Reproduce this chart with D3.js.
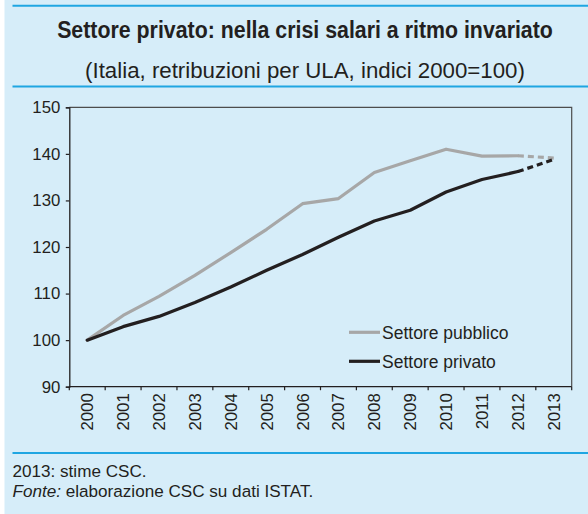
<!DOCTYPE html>
<html>
<head>
<meta charset="utf-8">
<script src="https://cdn.jsdelivr.net/npm/d3@7"></script>
<style>
  html, body { margin: 0; padding: 0; background: #ffffff; }
  svg { display: block; }
</style>
</head>
<body>
<svg id="chart" width="588" height="514"></svg>
<script>
// ---- data ----
const years = ["2000","2001","2002","2003","2004","2005","2006","2007","2008","2009","2010","2011","2012","2013"];
const pubblico = [100, 105.3, 109.4, 113.9, 118.8, 123.8, 129.3, 130.4, 136.0, 138.5, 141.0, 139.5, 139.6, 139.1];
const privato  = [100, 102.9, 105.1, 108.1, 111.4, 115.0, 118.4, 122.1, 125.6, 127.9, 131.8, 134.5, 136.2, 138.8];
const seriesNames = ["Settore pubblico", "Settore privato"];
const yTicks = [90, 100, 110, 120, 130, 140, 150];
const estimateFrom = "2012"; // 2013 is an estimate (dashed)
const titleText = "Settore privato: nella crisi salari a ritmo invariato";
const subtitleText = "(Italia, retribuzioni per ULA, indici 2000=100)";
const note1 = "2013: stime CSC.";
const note2a = "Fonte:";
const note2b = " elaborazione CSC su dati ISTAT.";

// ---- styles ----
const W = 588, H = 514;
const bg = "#d6edf9";
const rule = "#1fa6e2";
const ink = "#231f20";
const greyLine = "#a7a7a7";
const blackLine = "#231f20";
const sans = "'Liberation Sans', Arial, Helvetica, sans-serif";

const svg = d3.select("#chart");

// background
svg.append("rect").attr("x", 0).attr("y", 0).attr("width", W).attr("height", H).attr("fill", "#ffffff");
svg.append("rect").attr("x", 4.5).attr("y", 0).attr("width", W - 4.5).attr("height", H).attr("fill", bg);

// horizontal rules
[5.7, 86.5, 453].forEach(yy => {
  svg.append("line").attr("x1", 12.5).attr("x2", W).attr("y1", yy).attr("y2", yy)
    .attr("stroke", rule).attr("stroke-width", 2);
});

// condensed look: horizontally scaled text fitted to a width
function condensed(tx, ty, anchor, width) {
  const t = svg.append("text").attr("x", 0).attr("y", 0)
    .attr("font-family", sans).attr("fill", ink).attr("text-anchor", anchor);
  t.fit = function () {
    const w = t.node().getComputedTextLength();
    const s = width / w;
    t.attr("transform", `translate(${tx},${ty}) scale(${s},1)`);
    return t;
  };
  return t;
}

// title & subtitle
condensed(305, 37.5, "middle", 496).attr("font-weight", "bold").attr("font-size", 24.5)
  .text(titleText).fit();
condensed(305, 77.5, "middle", 440).attr("font-size", 22.5)
  .text(subtitleText).fit();

// footer
const f2 = svg.append("text").attr("font-family", sans).attr("font-size", 16.5).attr("fill", ink);
f2.append("tspan").attr("font-style", "italic").text(note2a);
f2.append("tspan").text(note2b);
const footScale = 301 / f2.node().getComputedTextLength();
f2.attr("transform", `translate(12.5,496.5) scale(${footScale},1)`);
svg.append("text").attr("font-family", sans).attr("font-size", 16.5).attr("fill", ink)
  .attr("transform", `translate(12.5,476.5) scale(${footScale},1)`)
  .text(note1);

// ---- plot ----
const pLeft = 69.3, pRight = 571.7, pTop = 107.3, pBottom = 386.7;
const x = d3.scaleBand().domain(years).range([pLeft, pRight]).padding(0);
const y = d3.scaleLinear().domain([90, 150]).range([pBottom, pTop]);

const g = svg.append("g");

// frame (top and right)
g.append("path")
  .attr("d", `M${pLeft},${pTop}H${pRight}V${pBottom}`)
  .attr("fill", "none").attr("stroke", "#4d4d4d").attr("stroke-width", 1.2);

// y axis
const yAxis = d3.axisLeft(y).tickValues(yTicks).tickSize(3.5).tickPadding(5.5).tickFormat(d3.format("d"));
const gy = g.append("g").attr("transform", `translate(${pLeft},0)`).call(yAxis);
gy.select(".domain").attr("stroke", ink).attr("stroke-width", 1.3);
gy.selectAll(".tick line").attr("stroke", ink).attr("stroke-width", 1.2);
gy.selectAll(".tick text").attr("font-family", sans).attr("font-size", 16.8).attr("fill", ink);

// x axis: line + ticks at band boundaries
const boundaries = years.map(d => x(d)).concat([x(years[years.length - 1]) + x.bandwidth()]);
g.append("line").attr("x1", pLeft).attr("x2", pRight).attr("y1", pBottom).attr("y2", pBottom)
  .attr("stroke", ink).attr("stroke-width", 1.3);
g.selectAll(".xtick").data(boundaries).enter().append("line")
  .attr("x1", d => d).attr("x2", d => d).attr("y1", pBottom).attr("y2", pBottom + 3.5)
  .attr("stroke", ink).attr("stroke-width", 1.2);
g.selectAll(".xlabel").data(years).enter().append("text")
  .attr("transform", d => `translate(${x(d) + x.bandwidth() / 2 + 6},${pBottom + 6.5}) rotate(-90)`)
  .attr("text-anchor", "end")
  .attr("font-family", sans).attr("font-size", 16.8).attr("fill", ink)
  .text(d => d);

// lines
const line = d3.line().x(d => x(d.year) + x.bandwidth() / 2).y(d => y(d.v));
const idxEst = years.indexOf(estimateFrom);
function drawSeries(vals, color) {
  const pts = years.map((yr, i) => ({ year: yr, v: vals[i] }));
  g.append("path").datum(pts.slice(0, idxEst + 1)).attr("d", line)
    .attr("fill", "none").attr("stroke", color).attr("stroke-width", 3.2)
    .attr("stroke-linejoin", "round").attr("stroke-linecap", "round");
  g.append("path").datum(pts.slice(idxEst)).attr("d", line)
    .attr("fill", "none").attr("stroke", color).attr("stroke-width", 3.2)
    .attr("stroke-dasharray", "6,4");
}
drawSeries(pubblico, greyLine);
drawSeries(privato, blackLine);

// legend
const legend = [
  { name: seriesNames[0], color: greyLine, ly: 332.3 },
  { name: seriesNames[1], color: blackLine, ly: 361.3 }
];
legend.forEach(l => {
  g.append("line").attr("x1", 349).attr("x2", 380).attr("y1", l.ly).attr("y2", l.ly)
    .attr("stroke", l.color).attr("stroke-width", 3.2);
  g.append("text").attr("x", 382).attr("y", l.ly + 7)
    .attr("font-family", sans).attr("font-size", 17.5).attr("fill", ink)
    .text(l.name);
});
</script>
</body>
</html>
